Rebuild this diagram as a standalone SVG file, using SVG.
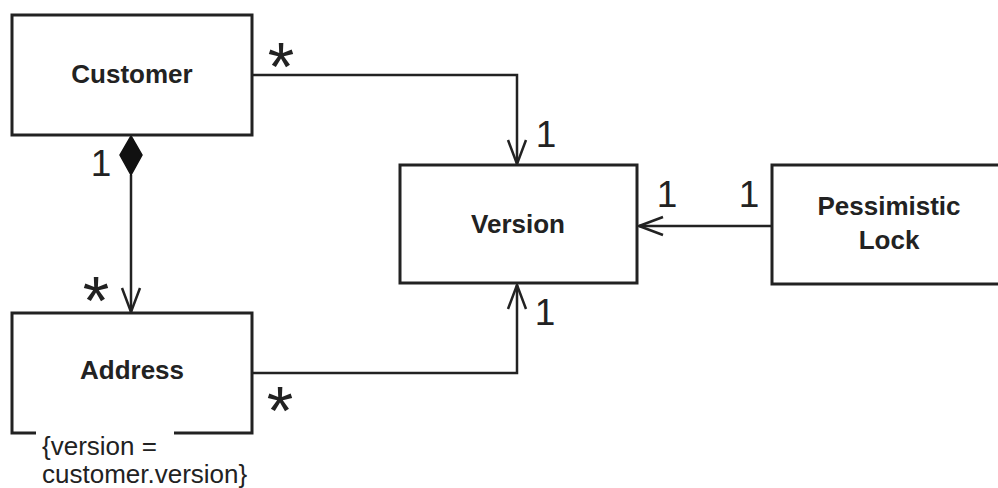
<svg xmlns="http://www.w3.org/2000/svg" width="998" height="488" viewBox="0 0 998 488">
<style>
.box{fill:#fff;stroke:#222;stroke-width:3}
.ln{fill:none;stroke:#222;stroke-width:2.5}
.name{font-family:"Liberation Sans",Arial,Helvetica,sans-serif;font-weight:bold;font-size:26px;fill:#222;text-anchor:middle}
.mult{font-family:"Liberation Sans",Arial,Helvetica,sans-serif;font-size:37px;fill:#222;text-anchor:middle}
.star{font-family:"Liberation Sans",Arial,Helvetica,sans-serif;font-size:68px;fill:#222;text-anchor:middle}
.note{font-family:"Liberation Sans",Arial,Helvetica,sans-serif;font-size:26px;fill:#222}
</style>
<defs>
<marker id="open" markerWidth="28" markerHeight="24" refX="25" refY="12" orient="auto" markerUnits="userSpaceOnUse">
<path d="M1,3 L25,12 L1,21" fill="none" stroke="#222" stroke-width="2.5"/>
</marker>
</defs>
<rect width="998" height="488" fill="#fff"/>
<g id="connectors">
<path class="ln" d="M252,75 H517 V164" marker-end="url(#open)"/>
<path class="ln" d="M252,373 H517 V285" marker-end="url(#open)"/>
<path class="ln" d="M772,226 H639" marker-end="url(#open)"/>
<path class="ln" d="M131,175 V312" marker-end="url(#open)"/>
<path d="M131,136 L142,155 L131,175 L120,155 Z" fill="#111" stroke="#111" stroke-width="1.5"/>
<text class="star" x="281" y="90">*</text>
<text class="mult" x="546" y="147">1</text>
<text class="mult" x="101" y="176">1</text>
<text class="star" x="96" y="324">*</text>
<text class="mult" x="667" y="207">1</text>
<text class="mult" x="749" y="207">1</text>
<text class="mult" x="545" y="325">1</text>
<text class="star" x="280" y="434">*</text>
</g>
<g id="customer">
<rect class="box" x="12" y="15" width="240" height="120"/>
<text class="name" x="132" y="83">Customer</text>
</g>
<g id="address">
<path class="box" d="M36,433 H12 V313 H252 V433 H174"/>
<text class="name" x="132" y="379">Address</text>
<text class="note" x="42" y="455">{version =</text>
<text class="note" x="42" y="483">customer.version}</text>
</g>
<g id="version">
<rect class="box" x="400" y="165" width="237" height="118"/>
<text class="name" x="518" y="233">Version</text>
</g>
<g id="lock">
<rect class="box" x="772" y="165" width="240" height="119"/>
<text class="name" x="889" y="215">Pessimistic</text>
<text class="name" x="889" y="249">Lock</text>
</g>
</svg>
